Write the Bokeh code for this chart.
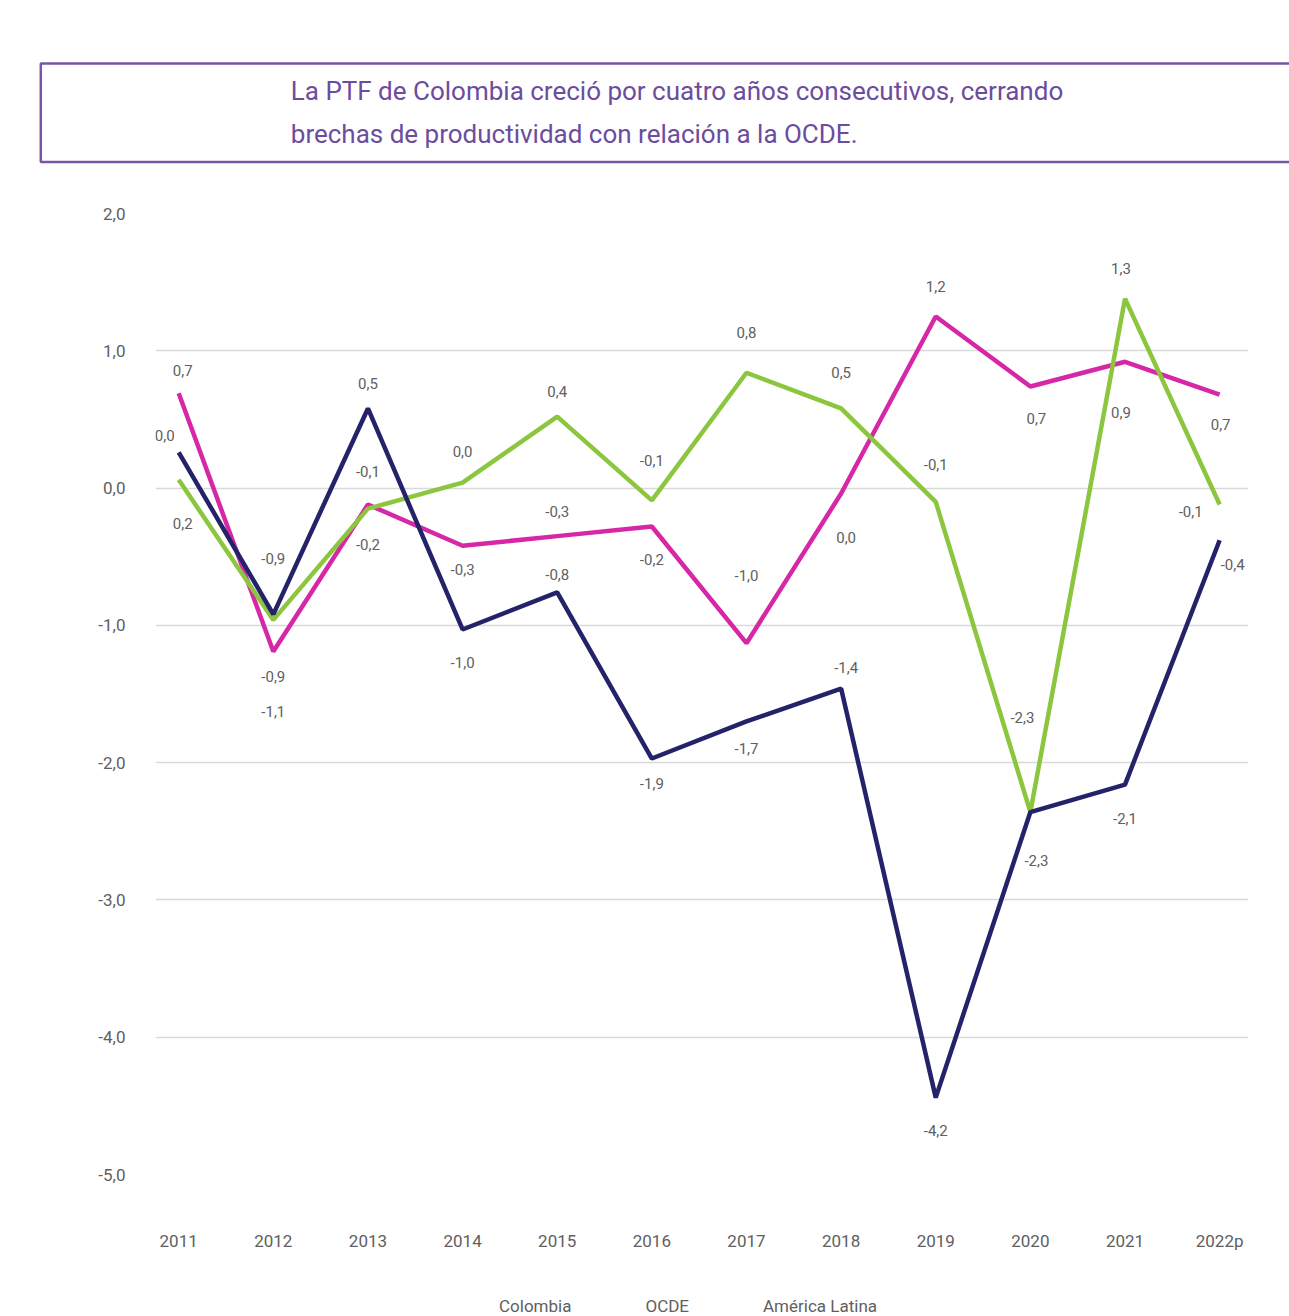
from bokeh.plotting import figure
from bokeh.models import (Range1d, FixedTicker, Legend, LegendItem, ColumnDataSource)
from bokeh.layouts import column
from bokeh.core.properties import value
from bokeh.embed import file_html
from bokeh.resources import INLINE

# ---------------- data ----------------
years = ["2011", "2012", "2013", "2014", "2015", "2016", "2017", "2018", "2019", "2020", "2021", "2022p"]
colombia = [0.69, -1.19, -0.12, -0.42, -0.35, -0.28, -1.13, -0.04, 1.25, 0.74, 0.92, 0.68]
ocde = [0.06, -0.96, -0.15, 0.04, 0.52, -0.09, 0.84, 0.58, -0.10, -2.36, 1.38, -0.12]
america_latina = [0.26, -0.92, 0.58, -1.03, -0.76, -1.97, -1.70, -1.46, -4.44, -2.36, -2.16, -0.38]

# data labels as printed in the source chart (year index, label text, value position)
label_idx = [0, 0, 0, 1, 1, 1, 2, 2, 2, 3, 3, 3, 4, 4, 4, 5, 5, 5,
             6, 6, 6, 7, 7, 7, 8, 8, 8, 9, 9, 9, 10, 10, 10, 11, 11, 11]
label_text = ["0,7", "0,0", "0,2", "-0,9", "-0,9", "-1,1", "0,5", "-0,1", "-0,2",
              "0,0", "-0,3", "-1,0", "0,4", "-0,3", "-0,8", "-0,1", "-0,2", "-1,9",
              "0,8", "-1,0", "-1,7", "0,5", "0,0", "-1,4", "1,2", "-0,1", "-4,2",
              "0,7", "-2,3", "-2,3", "1,3", "0,9", "-2,1", "0,7", "-0,1", "-0,4"]
label_pos = [0.86, 0.38, -0.26, -0.51, -1.37, -1.63, 0.76, 0.12, -0.41,
             0.27, -0.59, -1.27, 0.70, -0.17, -0.63, 0.20, -0.52, -2.15,
             1.13, -0.64, -1.90, 0.84, -0.36, -1.31, 1.47, 0.17, -4.68,
             0.51, -1.67, -2.71, 1.60, 0.55, -2.41, 0.46, -0.17, -0.56]
label_dx = [4, -14, 4, 0, 0, 0, 0, 0, 0, 0, 0, 0, 0, 0, 0, 0, 0, 0,
            0, 0, 0, 0, 5, 5, 0, 0, 0, 6, -8, 6, -4, -4, 0, 1, -29, 13]

yticks = [-5, -4, -3, -2, -1, 0, 1, 2]
ytick_labels = ["-5,0", "-4,0", "-3,0", "-2,0", "-1,0", "0,0", "1,0", "2,0"]

title_text = ("La PTF de Colombia creció por cuatro años consecutivos, cerrando\n"
              "brechas de productividad con relación a la OCDE.")

FONT = "Roboto"
C_COL = "#D628A6"
C_OCDE = "#8CC63F"
C_AL = "#24236A"
PURPLE = "#7757A3"
GREY = "#606060"

W = 1289

xs = list(range(len(years)))
p = figure(width=W, height=1270, x_range=Range1d(-0.245, 11.305), y_range=Range1d(-5, 2),
           output_backend="svg", toolbar_location=None,
           min_border_left=155, min_border_right=41, min_border_top=213, min_border_bottom=96)
p.outline_line_color = None
p.xgrid.visible = False
p.ygrid.grid_line_color = "#D9D9D9"
p.ygrid.grid_line_width = 1.5

p.yaxis.ticker = FixedTicker(ticks=yticks)
p.yaxis.major_label_overrides = {t_: l for t_, l in zip(yticks, ytick_labels)}
p.xaxis.ticker = FixedTicker(ticks=xs)
p.xaxis.major_label_overrides = {i: y for i, y in enumerate(years)}
for ax in (p.xaxis, p.yaxis):
    ax.axis_line_color = None
    ax.major_tick_line_color = None
    ax.minor_tick_line_color = None
    ax.major_label_text_font = FONT
    ax.major_label_text_font_size = "17px"
    ax.major_label_text_color = GREY
p.yaxis.major_label_standoff = 24
p.xaxis.major_label_standoff = 50

p.line(xs, colombia, line_color=C_COL, line_width=4.5)
p.line(xs, ocde, line_color=C_OCDE, line_width=4.5)
p.line(xs, america_latina, line_color=C_AL, line_width=4.5)

src = ColumnDataSource(dict(x=label_idx, y=label_pos, t=label_text, dx=label_dx))
p.text(x="x", y="y", text="t", x_offset="dx", source=src, text_font=value(FONT),
       text_font_size="15px", text_color=GREY, text_align="center", text_baseline="middle")

# title in a framed box
p.title.text = title_text
p.title.text_font = FONT
p.title.text_font_size = "26px"
p.title.text_font_style = "normal"
p.title.text_color = "#6C4C9E"
p.title.text_line_height = 1.42
p.title.align = "center"
p.title.offset = -41
p.title.standoff = 103
p.title.border_line_color = PURPLE
p.title.border_line_width = 2.5
p.title.padding = dict(left=250, right=300, top=13, bottom=13)

# legend in a strip below the chart
lg = figure(width=W, height=46, x_range=Range1d(0, 1), y_range=Range1d(0, 1),
            output_backend="svg", toolbar_location=None,
            min_border_left=155, min_border_right=41, min_border_top=0, min_border_bottom=0)
lg.axis.visible = False
lg.grid.visible = False
lg.outline_line_color = None
l1 = lg.line([], [], line_color=C_COL, line_width=5)
l2 = lg.line([], [], line_color=C_OCDE, line_width=5)
l3 = lg.line([], [], line_color=C_AL, line_width=5)
legend = Legend(items=[LegendItem(label="Colombia", renderers=[l1]),
                       LegendItem(label="OCDE", renderers=[l2]),
                       LegendItem(label="América Latina", renderers=[l3])],
                orientation="horizontal", location=(300, 0),
                label_text_font=FONT, label_text_font_size="17px", label_text_color=GREY,
                glyph_width=34, spacing=30, border_line_color=None, background_fill_alpha=0,
                margin=0, padding=0, label_standoff=10)
lg.add_layout(legend, "center")

open("out.html", "w").write(file_html(column(p, lg, spacing=0), INLINE))
